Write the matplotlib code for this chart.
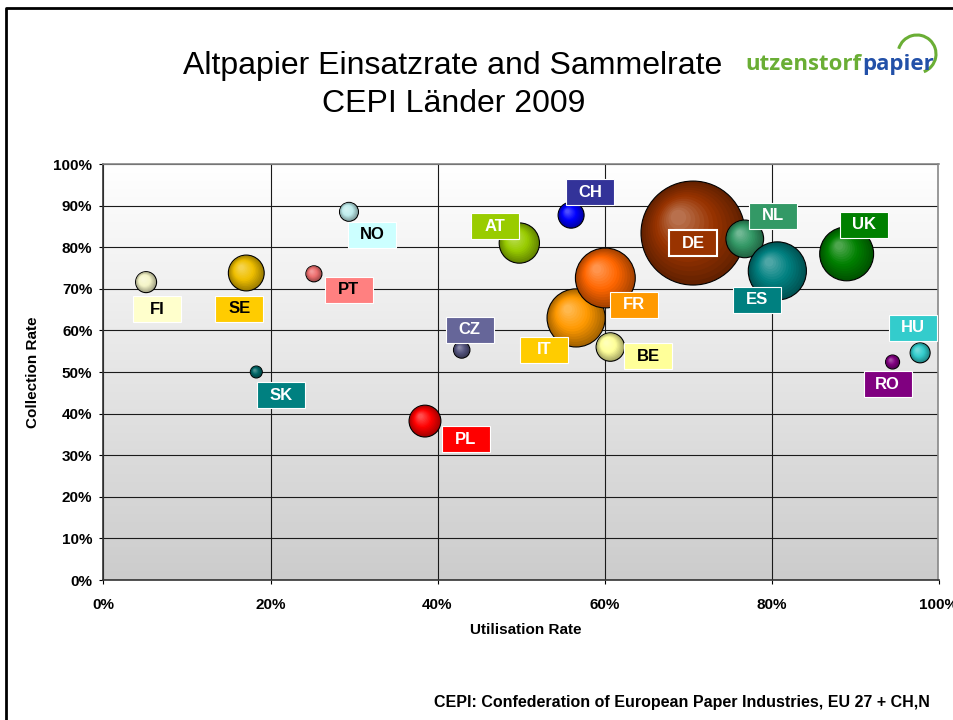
import numpy as np
import matplotlib
matplotlib.use('Agg')
import matplotlib.pyplot as plt
import matplotlib.transforms as mtransforms
from matplotlib.patches import Circle, Rectangle, Arc
from matplotlib.lines import Line2D
from matplotlib.colors import to_rgb, LinearSegmentedColormap
from matplotlib.ticker import PercentFormatter, MultipleLocator

plt.rcParams['font.family'] = ['Liberation Sans', 'DejaVu Sans']

# data (drawing order = overlap order)
countries = ['DE', 'NL', 'ES', 'UK', 'IT', 'FR', 'BE', 'AT', 'CH', 'CZ',
             'PL', 'SE', 'FI', 'NO', 'PT', 'SK', 'HU', 'RO']
utilisation = [70.6, 76.8, 80.7, 89.0, 56.6, 60.1, 60.7, 49.8, 56.0, 42.9,
               38.5, 17.1, 5.1, 29.4, 25.2, 18.3, 97.8, 94.5]
collection = [83.4, 82.0, 74.3, 78.4, 63.0, 72.6, 56.0, 81.0, 87.7, 55.3,
              38.2, 73.8, 71.6, 88.5, 73.6, 50.0, 54.6, 52.4]
volume = [16.0, 2.1, 5.0, 4.3, 5.0, 5.3, 1.2, 2.4, 1.0, 0.4,
          1.5, 1.9, 0.65, 0.53, 0.38, 0.21, 0.59, 0.29]

bubble_color = {'DE': '#993300', 'NL': '#339966', 'ES': '#008080', 'UK': '#008000',
                'IT': '#FF9900', 'FR': '#FF6600', 'BE': '#FFFF99', 'AT': '#99CC00',
                'CH': '#0000FF', 'CZ': '#55557F', 'PL': '#FF0000', 'SE': '#F0C000',
                'FI': '#F5F5C8', 'NO': '#C0EEEE', 'PT': '#EE7070', 'SK': '#006666',
                'HU': '#33CCCC', 'RO': '#800080'}
label_color = {'DE': '#993300', 'NL': '#339966', 'ES': '#008080', 'UK': '#008000',
               'IT': '#FFCC00', 'FR': '#FF9900', 'BE': '#FFFF99', 'AT': '#99CC00',
               'CH': '#333399', 'CZ': '#666699', 'PL': '#FF0000', 'SE': '#FFCC00',
               'FI': '#FFFFCC', 'NO': '#CCFFFF', 'PT': '#FF8080', 'SK': '#008080',
               'HU': '#33CCCC', 'RO': '#800080'}
dark_text = ['BE', 'SE', 'FI', 'NO', 'PT']
# label box centre relative to bubble centre, pixels (x right, y down)
label_offset = {'DE': (0, 10), 'NL': (28, -23), 'ES': (-20, 29), 'UK': (17, -29),
                'IT': (-32, 32), 'FR': (29, 27), 'BE': (38, 9), 'AT': (-24, -17),
                'CH': (19, -23), 'CZ': (8, -20), 'PL': (41, 18), 'SE': (-7, 36),
                'FI': (11, 27), 'NO': (23, 23), 'PT': (35, 16), 'SK': (25, 23),
                'HU': (-7, -25), 'RO': (-5, 22)}

W, H = 954, 720
fig = plt.figure(figsize=(W / 100, H / 100), dpi=100)
ax = fig.add_axes([103.5 / W, 1 - 580 / H, 835 / W, 416 / H])
ax.set_xlim(0, 100)
ax.set_ylim(0, 100)

# grey gradient plot area
cm = LinearSegmentedColormap.from_list('bg', ['#ffffff', '#cccccc'])
ax.imshow(np.linspace(0, 1, 256)[:, None], extent=(0, 100, 0, 100), origin='upper',
          cmap=cm, aspect='auto', zorder=0)
ax.set_axisbelow(True)
ax.grid(True, color='#1a1a1a', lw=0.8)
ax.xaxis.set_major_locator(MultipleLocator(20))
ax.yaxis.set_major_locator(MultipleLocator(10))
ax.xaxis.set_major_formatter(PercentFormatter(decimals=0))
ax.yaxis.set_major_formatter(PercentFormatter(decimals=0))
ax.tick_params(direction='out', length=3, width=0.8, labelsize=11, pad=5)
ax.tick_params(axis='x', pad=10)
for lab in ax.get_xticklabels() + ax.get_yticklabels():
    lab.set_fontweight('bold')
for s in ['left', 'bottom']:
    ax.spines[s].set_color('#333333')
for s in ['top', 'right']:
    ax.spines[s].set_color('#888888')
for s in ax.spines.values():
    s.set_linewidth(1.2)

px = 1 / fig.dpi


def mix(c1, c2, t):
    a, b = np.array(to_rgb(c1)), np.array(to_rgb(c2))
    return tuple(a + (b - a) * t)


n_layers = 14
for name, x, y, v in zip(countries, utilisation, collection, volume):
    trans = fig.dpi_scale_trans + mtransforms.ScaledTranslation(x, y, ax.transData)
    r = 13 * np.sqrt(v)
    base = bubble_color[name]
    dark = mix(base, 'black', 0.35)
    light = mix(base, 'white', 0.3)
    for i in range(n_layers):
        t = i / (n_layers - 1)
        col = mix(dark, base, t / 0.5) if t < 0.5 else mix(base, light, (t - 0.5) / 0.5)
        rad = r * (1 - 0.85 * t)
        ax.add_patch(Circle((-0.28 * r * t * px, 0.3 * r * t * px), rad * px,
                            transform=trans, fc=col,
                            ec='black' if i == 0 else 'none',
                            lw=0.8 if i == 0 else 0, zorder=3))

    dx, dy = label_offset[name]
    ax.add_patch(Rectangle(((dx - 24) * px, (-dy - 13) * px), 48 * px, 26 * px,
                           transform=trans, fc=label_color[name], ec='white',
                           lw=1.5 if name == 'DE' else 0.8, zorder=10))
    ax.text(dx * px, -dy * px, name, transform=trans, ha='center', va='center',
            fontsize=12, fontweight='bold', zorder=11,
            color='black' if name in dark_text else 'white')

# titles and texts
fig.text(453 / W, 1 - 74 / H, 'Altpapier Einsatzrate and Sammelrate',
         ha='center', va='baseline', fontsize=23)
fig.text(454 / W, 1 - 112 / H, 'CEPI Länder 2009', ha='center', va='baseline', fontsize=23)
fig.text(33 / W, 1 - 372 / H, 'Collection Rate', rotation=90, ha='center', va='center',
         fontsize=11, fontweight='bold')
fig.text(526 / W, 1 - 630 / H, 'Utilisation Rate', ha='center', va='center',
         fontsize=11, fontweight='bold')
fig.text(682 / W, 1 - 703 / H,
         'CEPI: Confederation of European Paper Industries, EU 27 + CH,N',
         ha='center', va='center', fontsize=11.5, fontweight='bold')

# logo
logo_font = ['Open Sans', 'DejaVu Sans']
fig.text(862 / W, 1 - 70 / H, 'utzenstorf', ha='right', va='baseline', color='#6AAE35',
         fontsize=16, fontweight='bold', family=logo_font)
fig.text(862 / W, 1 - 70 / H, 'papier', ha='left', va='baseline', color='#2250A8',
         fontsize=16, fontweight='bold', family=logo_font)
fig.add_artist(Arc((917 / 100, (H - 54) / 100), 38 / 100, 38 / 100, theta1=-69, theta2=164,
                   transform=fig.dpi_scale_trans, color='#6AAE35', lw=2.2))

# slide frame (left and top edges only are visible)
fig.add_artist(Line2D([6 / W, 6 / W, 1.01], [-0.01, 1 - 8 / H, 1 - 8 / H],
                      transform=fig.transFigure, color='black', lw=2))

fig.savefig('out.png', dpi=100)
